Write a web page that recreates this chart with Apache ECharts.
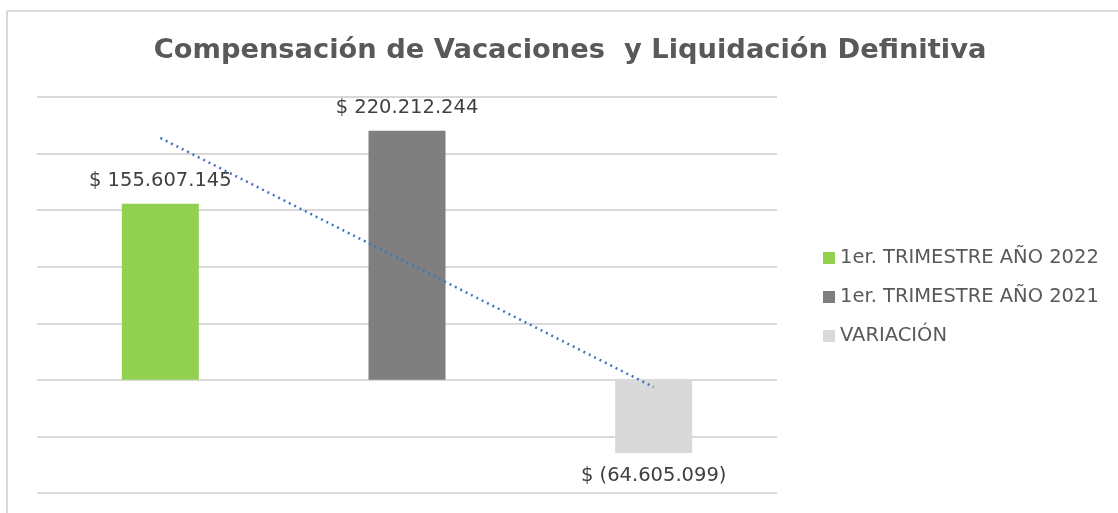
<!DOCTYPE html>
<html>
<head>
<meta charset="utf-8">
<script src="https://cdn.jsdelivr.net/npm/echarts@6/dist/echarts.min.js"></script>
<style>
  html, body { margin: 0; padding: 0; background: #fff; }
  #main { width: 1118px; height: 513px; }
</style>
</head>
<body>
<div id="main"></div>
<script>
	// datos del grafico
	var categorias = ['1er. TRIMESTRE AÑO 2022', '1er. TRIMESTRE AÑO 2021', 'VARIACIÓN'];
	var valores = [155607145, 220212244, -64605099];
	var colores = ['#92d050', '#7f7f7f', '#d9d9d9'];
	// linea de tendencia
	var tendencia = [213800000, 103700000, -6400000];

	var fuente = 'DejaVu Sans';

	function formatoPesos(v) {
		var s = Math.abs(v).toString().replace(/\B(?=(\d{3})+(?!\d))/g, '.');
		return v < 0 ? '$ (' + s + ')' : '$ ' + s;
	}

	var series = [];
	for(var i = 0; i < categorias.length; i++) {
		var datos = [null, null, null];
		datos[i] = valores[i];
		series.push({
			name: categorias[i],
			type: 'bar',
			stack: 'total',
			barWidth: 77,
			data: datos,
			itemStyle: { color: colores[i] },
			label: {
				show: true,
				position: valores[i] < 0 ? 'bottom' : 'top',
				distance: 13,
				color: '#404040',
				fontFamily: fuente,
				fontSize: 19.5,
				formatter: function(p) { return formatoPesos(p.value); }
			}
		});
	}
	series.push({
		name: 'tendencia',
		type: 'line',
		data: tendencia,
		symbol: 'none',
		silent: true,
		z: 5,
		lineStyle: { color: '#4472c4', width: 2.5, type: [2, 4] }
	});

	var chart = echarts.init(document.getElementById('main'));
	chart.setOption({
		animation: false,
		title: {
			text: 'Compensación de Vacaciones  y Liquidación Definitiva',
			left: 565,
			textAlign: 'center',
			top: 32,
			textStyle: { fontFamily: fuente, fontSize: 27.3, fontWeight: 'bold', color: '#595959' }
		},
		legend: {
			data: categorias,
			orient: 'vertical',
			left: 818,
			top: 243,
			itemGap: 19,
			itemWidth: 12,
			itemHeight: 12,
			icon: 'rect',
			textStyle: { fontFamily: fuente, fontSize: 19.5, color: '#595959' }
		},
		grid: { left: 37, right: 341, top: 97, bottom: 20 },
		xAxis: {
			type: 'category',
			data: categorias,
			axisLine: { show: false },
			axisTick: { show: false },
			axisLabel: { show: false }
		},
		yAxis: {
			type: 'value',
			min: -100000000,
			max: 250000000,
			interval: 50000000,
			axisLabel: { show: false },
			splitLine: { lineStyle: { color: '#d9d9d9', width: 2 } }
		},
		graphic: [
			{ type: 'line', shape: { x1: 7, y1: 11, x2: 1118, y2: 11 }, style: { stroke: '#d9d9d9', lineWidth: 2 } },
			{ type: 'line', shape: { x1: 7, y1: 11, x2: 7, y2: 513 }, style: { stroke: '#d9d9d9', lineWidth: 2 } }
		],
		series: series
	});
</script>
</body>
</html>
